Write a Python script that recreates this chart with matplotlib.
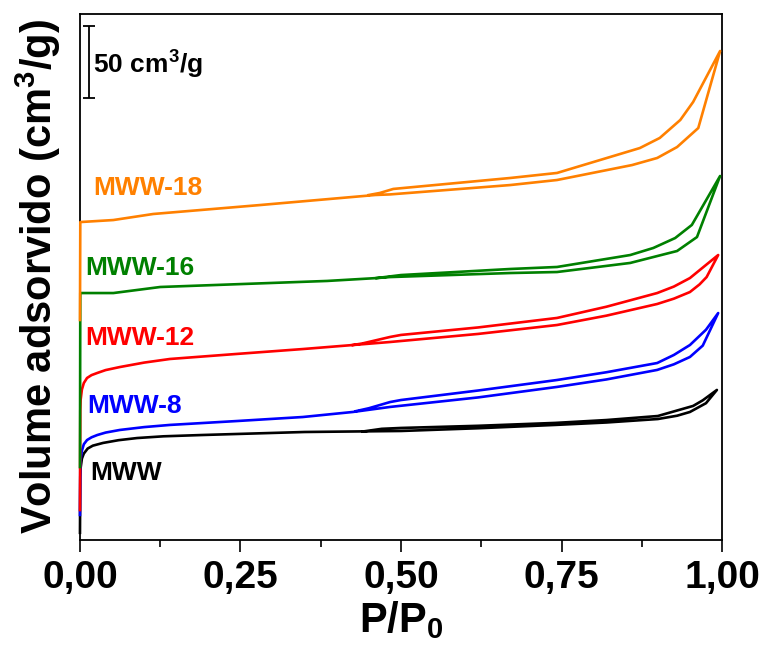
import numpy as np
import matplotlib
matplotlib.use("Agg")
import matplotlib.pyplot as plt

# ===== DATA (P/P0, volume offset in cm3/g) =====
mww_ads_p = [0.0, 0.0005, 0.001, 0.003, 0.006, 0.012, 0.02, 0.036, 0.06, 0.089, 0.13, 0.19, 0.35, 0.50, 0.62, 0.74, 0.82, 0.90, 0.93, 0.95, 0.975, 0.992]
mww_ads_v = [5.0, 44.0, 50.0, 56.5, 60.0, 63.5, 65.5, 67.4, 69.3, 70.8, 72.0, 72.9, 75.0, 75.7, 77.6, 79.9, 81.6, 84.0, 86.3, 88.9, 95.0, 104.2]
mww_des_p = [0.992, 0.97, 0.955, 0.90, 0.82, 0.74, 0.62, 0.50, 0.47, 0.44]
mww_des_v = [104.2, 97.0, 93.1, 86.1, 83.3, 81.3, 79.3, 77.8, 77.2, 75.3]

mww8_ads_p = [0.0, 0.0005, 0.001, 0.003, 0.006, 0.011, 0.018, 0.027, 0.04, 0.062, 0.1, 0.14, 0.244, 0.347, 0.425, 0.483, 0.62, 0.743, 0.82, 0.899, 0.925, 0.950, 0.97, 0.994]
mww8_ads_v = [17.4, 50.0, 56.0, 62.0, 66.5, 69.4, 71.3, 72.9, 74.6, 76.4, 78.4, 79.9, 82.6, 85.4, 88.9, 92.4, 99.0, 106.3, 111.5, 118.1, 122.0, 127.1, 135.0, 157.6]
mww8_des_p = [0.994, 0.975, 0.95, 0.925, 0.899, 0.82, 0.743, 0.62, 0.50, 0.483, 0.45, 0.43]
mww8_des_v = [157.6, 146.0, 135.4, 128.5, 122.9, 116.5, 111.1, 103.8, 97.2, 95.8, 91.5, 89.5]

mww12_ads_p = [0.0, 0.0005, 0.001, 0.003, 0.006, 0.011, 0.018, 0.027, 0.04, 0.062, 0.1, 0.14, 0.244, 0.347, 0.425, 0.483, 0.62, 0.743, 0.82, 0.899, 0.925, 0.950, 0.965, 0.976, 0.994]
mww12_ads_v = [20.8, 90.0, 97.2, 104.5, 109.0, 112.5, 114.5, 116.0, 118.0, 120.1, 123.2, 125.7, 129.2, 132.6, 135.4, 137.5, 143.1, 149.3, 155.8, 163.9, 167.6, 172.2, 177.5, 182.6, 197.9]
mww12_des_p = [0.994, 0.975, 0.95, 0.925, 0.899, 0.82, 0.743, 0.62, 0.50, 0.483, 0.44, 0.425]
mww12_des_v = [197.9, 191.0, 181.9, 176.0, 171.5, 162.0, 154.2, 147.6, 142.4, 141.0, 136.5, 135.4]

mww16_ads_p = [0.0, 0.0005, 0.052, 0.125, 0.385, 0.462, 0.483, 0.67, 0.743, 0.857, 0.893, 0.93, 0.961, 0.997]
mww16_ads_v = [50.7, 171.5, 171.5, 175.7, 179.9, 181.9, 182.6, 185.4, 186.1, 192.4, 196.5, 200.7, 210.4, 252.8]
mww16_des_p = [0.997, 0.953, 0.927, 0.893, 0.857, 0.743, 0.67, 0.50, 0.462]
mww16_des_v = [252.8, 218.8, 209.7, 202.8, 197.9, 189.6, 188.2, 184.0, 181.9]

mww18_ads_p = [0.0, 0.0005, 0.052, 0.114, 0.28, 0.46, 0.483, 0.67, 0.743, 0.86, 0.899, 0.93, 0.963, 0.997]
mww18_ads_v = [152.8, 220.8, 222.2, 226.4, 232.6, 239.6, 240.0, 246.5, 250.0, 260.4, 265.3, 272.9, 286.1, 339.6]
mww18_des_p = [0.997, 0.955, 0.935, 0.903, 0.872, 0.743, 0.67, 0.488, 0.467, 0.45]
mww18_des_v = [339.6, 304.2, 291.7, 279.2, 272.2, 254.9, 251.4, 243.8, 241.0, 239.6]

samples = ["MWW", "MWW-8", "MWW-12", "MWW-16", "MWW-18"]
colors = ["black", "#0000FF", "#FF0000", "#008000", "#FF8000"]
label_x = [0.016, 0.011, 0.009, 0.008, 0.020]
label_y = [46.5, 93.1, 140.3, 188.9, 244.4]

xticks = [0.0, 0.25, 0.50, 0.75, 1.0]
xtick_labels = ["0,00", "0,25", "0,50", "0,75", "1,00"]

# ===== PLOT =====
bold = ["Liberation Sans", "DejaVu Sans"]

fig = plt.figure(figsize=(7.66, 6.48), dpi=100)
ax = fig.add_axes([0.1044, 0.1667, 0.8382, 0.8117])

curves = [
    (mww_ads_p, mww_ads_v, mww_des_p, mww_des_v),
    (mww8_ads_p, mww8_ads_v, mww8_des_p, mww8_des_v),
    (mww12_ads_p, mww12_ads_v, mww12_des_p, mww12_des_v),
    (mww16_ads_p, mww16_ads_v, mww16_des_p, mww16_des_v),
    (mww18_ads_p, mww18_ads_v, mww18_des_p, mww18_des_v),
]
for (ap, av, dp, dv), c in zip(curves, colors):
    ax.plot(np.concatenate([ap, dp]), np.concatenate([av, dv]),
            color=c, lw=1.9, zorder=3, clip_on=False)

for name, c, lx, ly in zip(samples, colors, label_x, label_y):
    ax.text(lx, ly, name, color=c, fontsize=19, fontweight="bold",
            family=bold, ha="left", va="center")

# scale bar 50 cm3/g
ax.errorbar([0.014], [331.9], yerr=[25.0], color="black", lw=1.3,
            capsize=4, capthick=1.3)
ax.text(0.020, 330.6, r"50 cm$^{\mathregular{3}}$/g", fontsize=19,
        fontweight="bold", family=bold, ha="left", va="center")

ax.set_xlim(0, 1.0)
ax.set_ylim(0, 365.3)
ax.set_yticks([])
ax.set_xticks(xticks)
ax.set_xticklabels(xtick_labels)
ax.set_xticks([0.125, 0.375, 0.625, 0.875], minor=True)
ax.tick_params(axis="x", which="major", direction="out", length=8.5, width=1.2, pad=6)
ax.tick_params(axis="x", which="minor", direction="out", length=5, width=1.2)
for lab in ax.get_xticklabels():
    lab.set_fontfamily(bold)
    lab.set_fontweight("bold")
    lab.set_fontsize(28)
for s in ax.spines.values():
    s.set_linewidth(1.3)

ax.set_xlabel(r"P/P$_{\mathregular{0}}$", fontsize=30, fontweight="bold",
              family=bold, labelpad=2)
ax.set_ylabel(r"Volume adsorvido (cm$^{\mathregular{3}}$/g)", fontsize=30,
              fontweight="bold", family=bold, labelpad=12)

plt.savefig("out.png", dpi=100)
